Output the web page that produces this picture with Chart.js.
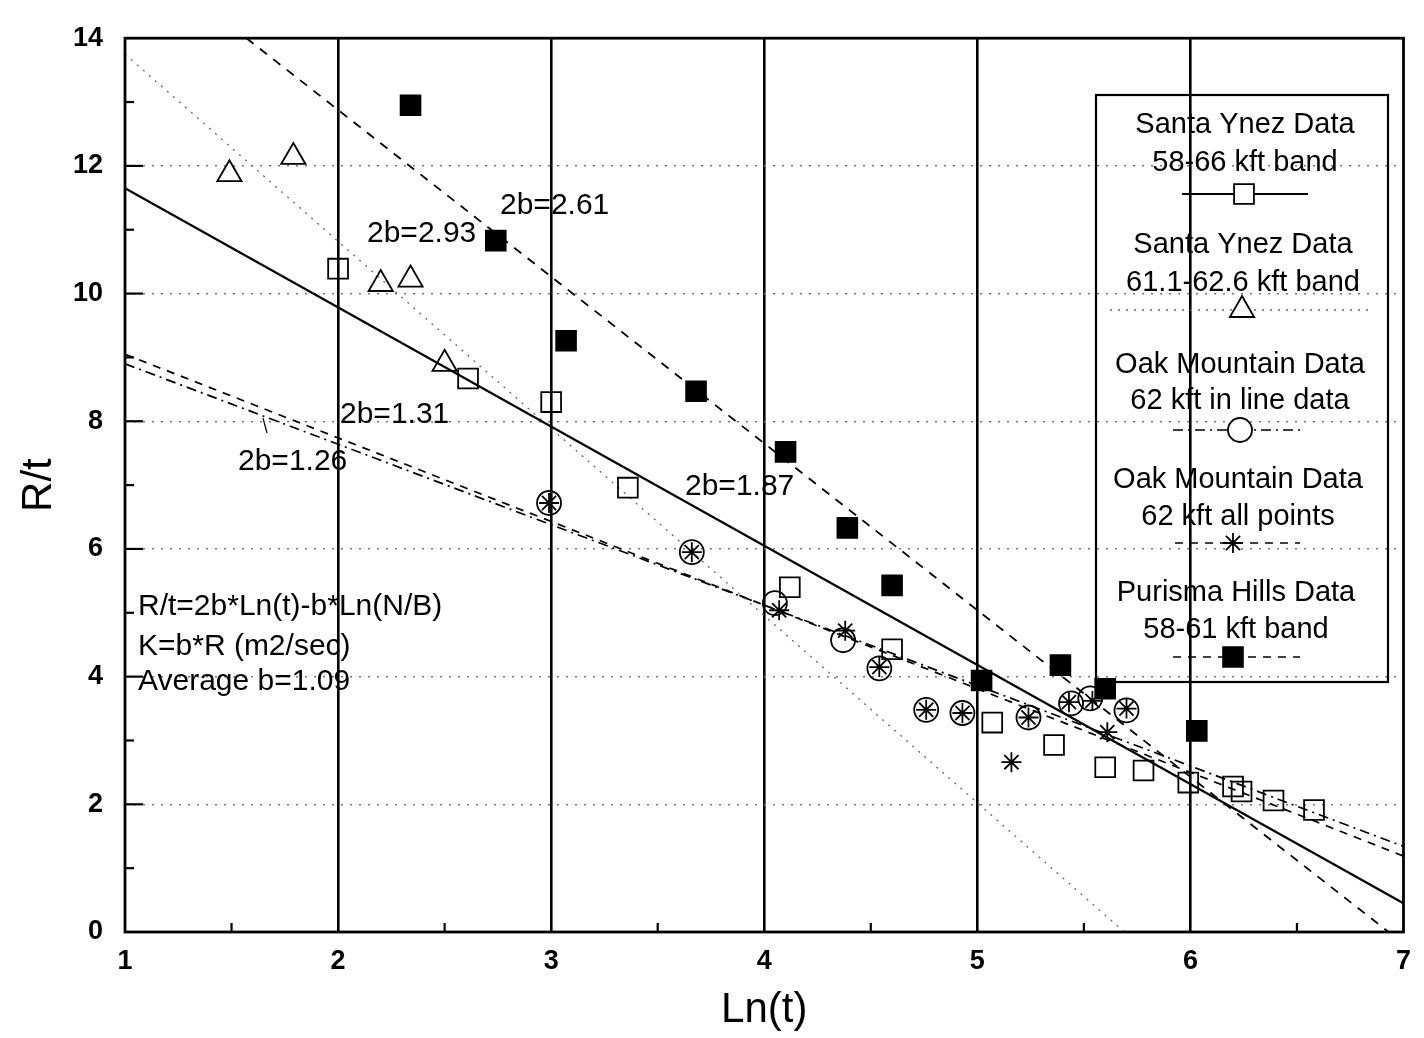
<!DOCTYPE html>
<html>
<head>
<meta charset="utf-8">
<script src="https://cdn.jsdelivr.net/npm/chart.js@4.4.1/dist/chart.umd.min.js"></script>
<style>
  html, body { margin: 0; padding: 0; background: #fff; }
  #wrap { width: 1424px; height: 1038px; }
</style>
</head>
<body>
<div id="wrap"><canvas id="myChart" width="1424" height="1038"></canvas></div>
<script>
// axis ranges
const xRange = [1, 7];
const yRange = [0, 14];

// Santa Ynez Data, 58-66 kft band (open squares)
const syBandX = [2.00, 2.61, 3.00, 3.36, 4.12, 4.60, 5.07, 5.36, 5.60, 5.78, 5.99, 6.20, 6.24, 6.39, 6.58];
const syBandY = [10.39, 8.67, 8.30, 6.96, 5.40, 4.43, 3.28, 2.93, 2.58, 2.53, 2.34, 2.28, 2.20, 2.06, 1.91];

// Santa Ynez Data, 61.1-62.6 kft band (triangles)
const syNarrowX = [1.49, 1.79, 2.20, 2.34, 2.50];
const syNarrowY = [11.87, 12.14, 10.15, 10.22, 8.90];

// Oak Mountain Data, 62 kft in line data (circles)
const oakLineX = [2.99, 3.66, 4.05, 4.37, 4.54, 4.76, 4.93, 5.24, 5.44, 5.53, 5.70];
const oakLineY = [6.72, 5.95, 5.15, 4.57, 4.13, 3.48, 3.43, 3.36, 3.58, 3.66, 3.47];

// Oak Mountain Data, 62 kft all points (asterisks)
const oakAllX = [2.99, 3.66, 4.07, 4.38, 4.54, 4.76, 4.93, 5.16, 5.24, 5.43, 5.54, 5.61, 5.70];
const oakAllY = [6.72, 5.95, 5.04, 4.72, 4.15, 3.48, 3.43, 2.66, 3.36, 3.60, 3.62, 3.13, 3.50];

// Purisma Hills Data, 58-61 kft band (filled squares)
const purismaX = [2.34, 2.74, 3.07, 3.68, 4.10, 4.39, 4.60, 5.02, 5.39, 5.60, 6.03];
const purismaY = [12.95, 10.83, 9.26, 8.47, 7.52, 6.33, 5.43, 3.94, 4.18, 3.81, 3.15];

// fitted lines, end points
const fitSyBandX = [1, 7];      const fitSyBandY = [11.65, 0.45];   // 2b=1.87
const fitSyNarrowX = [1, 5.69]; const fitSyNarrowY = [13.75, 0];    // 2b=2.93
const fitOakAllX = [1, 7];      const fitOakAllY = [9.05, 1.19];    // 2b=1.31
const fitOakLineX = [1, 7];     const fitOakLineY = [8.90, 1.34];   // 2b=1.26
const fitPurismaX = [1.57, 6.93]; const fitPurismaY = [14, 0];      // 2b=2.61

// text on the plot
const slopeLabels = ['2b=2.93', '2b=2.61', '2b=1.31', '2b=1.26', '2b=1.87'];
const formulaLines = ['R/t=2b*Ln(t)-b*Ln(N/B)', 'K=b*R (m2/sec)', 'Average b=1.09'];
const legendTitles = [
    ['Santa Ynez Data', '58-66 kft band'],
    ['Santa Ynez Data', '61.1-62.6 kft band'],
    ['Oak Mountain Data', '62 kft in line data'],
    ['Oak Mountain Data', '62 kft all points'],
    ['Purisma Hills Data', '58-61 kft band']
];

const FONT = "'Liberation Sans', Arial, Helvetica, sans-serif";

function toPoints(xs, ys) {
    return xs.map((x, i) => ({ x: x, y: ys[i] }));
}

function markerSet(label, xs, ys, style, radius, filled) {
    return {
        type: 'scatter',
        label: label,
        data: toPoints(xs, ys),
        showLine: false,
        pointStyle: style,
        pointRadius: radius,
        pointBorderWidth: 1.8,
        borderColor: '#000',
        backgroundColor: filled ? '#000' : 'rgba(0,0,0,0)',
        order: 1
    };
}

function fitSet(xs, ys, dash, width, color) {
    return {
        type: 'line',
        data: toPoints(xs, ys),
        borderColor: color,
        borderWidth: width,
        borderDash: dash,
        pointRadius: 0,
        fill: false,
        tension: 0,
        order: 2
    };
}

// Draws frame, inner ticks, text notes and the boxed legend
const decorPlugin = {
    id: 'decor',
    afterDraw(chart) {
        const ctx = chart.ctx;
        const xs = chart.scales.x;
        const ys = chart.scales.y;
        const a = chart.chartArea;

        ctx.save();
        ctx.strokeStyle = '#000';

        // frame
        ctx.lineWidth = 2.8;
        ctx.strokeRect(a.left, a.top, a.right - a.left, a.bottom - a.top);

        // inner tick marks on y axis
        ctx.lineWidth = 2.2;
        for (let v = 1; v < 14; v++) {
            const py = ys.getPixelForValue(v);
            const len = v % 2 === 0 ? 18 : 9;
            ctx.beginPath();
            ctx.moveTo(a.left, py);
            ctx.lineTo(a.left + len, py);
            ctx.stroke();
        }
        // half-step ticks on x axis
        for (let v = 1.5; v < 7; v += 1) {
            const px = xs.getPixelForValue(v);
            ctx.beginPath();
            ctx.moveTo(px, a.bottom);
            ctx.lineTo(px, a.bottom - 9);
            ctx.stroke();
        }

        // slope notes
        ctx.fillStyle = '#000';
        ctx.font = '30px ' + FONT;
        ctx.textAlign = 'left';
        ctx.textBaseline = 'alphabetic';
        const slopePos = [[367, 242], [500, 214], [340, 423], [238, 470], [685, 495]];
        slopeLabels.forEach((t, i) => ctx.fillText(t, slopePos[i][0], slopePos[i][1]));

        // little leader stroke by 2b=1.26
        ctx.lineWidth = 1.2;
        ctx.beginPath();
        ctx.moveTo(263, 418);
        ctx.lineTo(267, 433);
        ctx.stroke();

        // formula block
        const formulaY = [615, 655, 690];
        formulaLines.forEach((t, i) => ctx.fillText(t, 138, formulaY[i]));

        // legend box
        ctx.lineWidth = 2.2;
        ctx.strokeRect(1096, 95, 292, 587);

        ctx.font = '29px ' + FONT;
        ctx.textAlign = 'center';
        ctx.textBaseline = 'middle';
        const titleY = [[125, 163], [245, 283], [365, 401], [480, 517], [593, 630]];
        const titleX = [1245, 1243, 1240, 1238, 1236];
        legendTitles.forEach((pair, i) => {
            ctx.fillText(pair[0], titleX[i], titleY[i][0]);
            ctx.fillText(pair[1], titleX[i], titleY[i][1]);
        });

        // legend samples: line then marker
        const samples = [
            { y: 194, x0: 1182, x1: 1308, mx: 1244, dash: [], lw: 2.2, color: '#000', style: 'rect', r: 14, filled: false },
            { y: 310, x0: 1110, x1: 1373, mx: 1242, dash: [2, 6], lw: 1.3, color: '#666', style: 'triangle', r: 14, filled: false },
            { y: 430, x0: 1173, x1: 1302, mx: 1240, dash: [10, 5, 2, 5], lw: 1.7, color: '#000', style: 'circle', r: 12, filled: false },
            { y: 543, x0: 1175, x1: 1300, mx: 1233, dash: [8, 7], lw: 1.7, color: '#000', style: 'star', r: 10, filled: false },
            { y: 657, x0: 1173, x1: 1300, mx: 1233, dash: [8, 7], lw: 1.7, color: '#000', style: 'rect', r: 14, filled: true }
        ];
        samples.forEach(s => {
            ctx.save();
            ctx.strokeStyle = s.color;
            ctx.lineWidth = s.lw;
            ctx.setLineDash(s.dash);
            ctx.beginPath();
            ctx.moveTo(s.x0, s.y);
            ctx.lineTo(s.x1, s.y);
            ctx.stroke();
            ctx.restore();

            ctx.save();
            ctx.strokeStyle = '#000';
            ctx.fillStyle = s.filled ? '#000' : '#fff';
            ctx.lineWidth = 1.8;
            Chart.helpers.drawPoint(ctx, { pointStyle: s.style, radius: s.r, rotation: 0, borderWidth: 1.8 }, s.mx, s.y);
            ctx.restore();
        });

        ctx.restore();
    }
};

function renderChart() {
    const ctx = document.getElementById('myChart').getContext('2d');

    const config = {
        type: 'scatter',
        data: {
            datasets: [
                fitSet(fitSyBandX, fitSyBandY, [], 2.4, '#000'),
                fitSet(fitSyNarrowX, fitSyNarrowY, [2, 6], 1.3, '#666'),
                fitSet(fitOakAllX, fitOakAllY, [8, 7], 1.7, '#000'),
                fitSet(fitOakLineX, fitOakLineY, [10, 5, 2, 5], 1.7, '#000'),
                fitSet(fitPurismaX, fitPurismaY, [9, 8], 1.8, '#000'),
                markerSet('Santa Ynez 58-66', syBandX, syBandY, 'rect', 14, false),
                markerSet('Santa Ynez 61.1-62.6', syNarrowX, syNarrowY, 'triangle', 14, false),
                markerSet('Oak Mountain in line', oakLineX, oakLineY, 'circle', 12, false),
                markerSet('Oak Mountain all', oakAllX, oakAllY, 'star', 10, false),
                markerSet('Purisma Hills', purismaX, purismaY, 'rect', 14, true)
            ]
        },
        options: {
            responsive: false,
            animation: false,
            layout: {
                padding: { top: 38, right: 9, left: 0, bottom: 0 }
            },
            plugins: {
                legend: { display: false },
                tooltip: { enabled: false }
            },
            scales: {
                x: {
                    type: 'linear',
                    min: xRange[0],
                    max: xRange[1],
                    ticks: {
                        stepSize: 1,
                        color: '#000',
                        padding: 13,
                        font: { family: FONT, size: 27, weight: 'bold' }
                    },
                    grid: {
                        drawTicks: false,
                        lineWidth: 2.6,
                        color: c => (c.tick && c.tick.value > 1 && c.tick.value < 7) ? '#000' : 'rgba(0,0,0,0)'
                    },
                    border: { display: false },
                    title: {
                        display: true,
                        text: 'Ln(t)',
                        color: '#000',
                        padding: { top: 0, bottom: 2 },
                        font: { family: FONT, size: 42 }
                    },
                    afterFit: scale => { scale.height = 106; }
                },
                y: {
                    type: 'linear',
                    min: yRange[0],
                    max: yRange[1],
                    ticks: {
                        stepSize: 2,
                        color: '#000',
                        padding: 22,
                        font: { family: FONT, size: 27, weight: 'bold' }
                    },
                    grid: {
                        drawTicks: false,
                        lineWidth: 1.4,
                        color: c => (c.tick && c.tick.value > 0 && c.tick.value < 14) ? '#777' : 'rgba(0,0,0,0)'
                    },
                    border: { display: false, dash: [2, 7] },
                    title: {
                        display: true,
                        text: 'R/t',
                        color: '#000',
                        padding: { top: 14, bottom: 0 },
                        font: { family: FONT, size: 42 }
                    },
                    afterFit: scale => { scale.width = 125; }
                }
            }
        },
        plugins: [decorPlugin]
    };

    new Chart(ctx, config);
}

document.addEventListener('DOMContentLoaded', function() {
    renderChart();
});
</script>
</body>
</html>
